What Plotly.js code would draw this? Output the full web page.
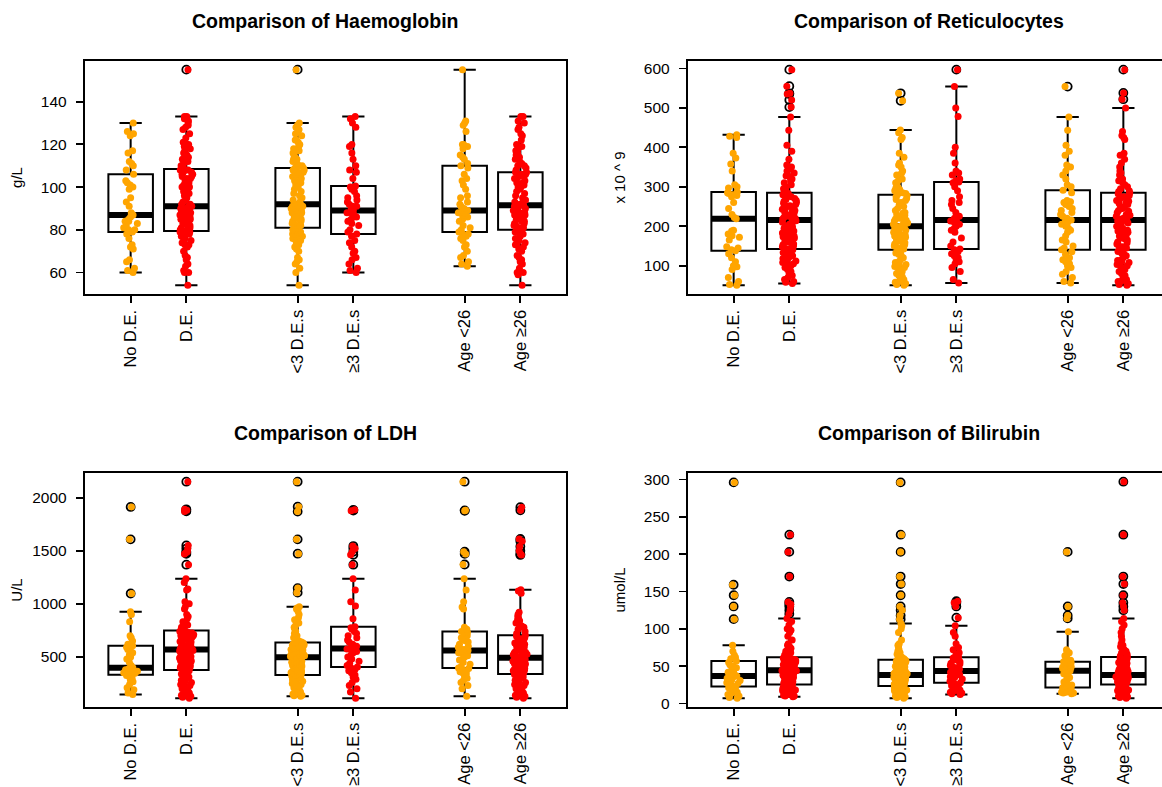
<!DOCTYPE html>
<html><head><meta charset="utf-8">
<script src="https://cdn.plot.ly/plotly-3.0.1.min.js"></script>
<style>
html,body{margin:0;padding:0;overflow:hidden;background:#fff;width:1162px;height:787px}
#chart{width:1172px;height:787px}
</style>
</head><body><div id="chart"></div>
<script>
// ---------- categories ----------
const groupLabels = ['No D.E.', 'D.E.', '&lt;3 D.E.s', '≥3 D.E.s', 'Age &lt;26', 'Age ≥26'];

// ---------- Haemoglobin (g/L) ----------
const hbNoDE = [60,61,62,65,66,71,72,73,76,78, 79, 80,80,81,82,83,84,84,85,86, 87, 88,91,93,95,99,100,101,102,103, 106, 108,110,111,112,116,117,124,125,126,130];
const hbDE = [54,60,60,61,63,64,66,67,68,70, 72,73,73,74,75,75,76,77,77,78, 78,78,78,79,79,79,79, 79.5,
  80,80,81,81,82,82,83,83,84,84,85,85, 86,86,86,87,87,88,88,88,89,89,90,90,90,91, 91,
  92,92,93,94,95,96,97,98,99,100,100,101,102,103,104, 104,105,105,106,106,107,107,108,108,108,108, 108.5,
  109,110,110,111,112,113,113,114,115,116,117,118,119,120,120,121,123,125, 127,128,129,130,131,132,133,133,155];
const hbLt3 = [54,60,62,64,65,66,67,70,71,72, 73,74,75,76,76,77,77,78,78,79,79,80,80,80,81, 81,
  82,82,83,83,84,84,85,85,86,86,87,87,88,88,89,89,90,90,90,91,91,91,92,92, 92,
  93,94,95,96,97,98,99,100,100,101,102,103,103,104,105,105,106,106,107,107,108,108,108,109, 109,
  110,110,111,112,113,113,114,115,116,117,117,118,119,120,121,122,122,124,125,126,127,128,129,130,155];
const hbGe3 = [60,61,62,64,66,67,69,70,72,74,75,77, 78, 79,80,82,83,84,85,86,86,87,88,88, 89,
  90,91,91,92,93,94,95,96,98,99,100, 100.5, 104,107,108,110,113,116,119,120,128,130,132,133];
const hbAgeLt26 = [63,64,65,67,68,70,72,73,75,76,77,78,78, 79, 80,81,82,84,85,86,86,87,87,88,88,89, 89,
  90,91,92,93,95,96,99,101,103,104,106,109, 110, 111,113,114,115,118,119,120,120,126,129,130,131,155];
const hbAgeGe26 = [54,59,60,60,62,64,65,66,67,68,70,71,72,73,74,74,75,76,76,77,78,78,79,79, 80,
  80,81,81,82,82,83,83,84,84,85,85,86,86,87,87,88,88,89,89,90,90,91,91, 91.5,
  92,92,93,93,94,95,96,97,98,99,100,100,101,102,102,103,104,104,105,105,106,106,107, 107,
  108,109,110,110,111,112,113,114,115,116,117,117,118,119,120,122,124,125,127,128,130,131,133,133];

// ---------- Reticulocytes (x 10^9) ----------
const rtNoDE = [50,52,60,70,90,97,100,110,120,130, 138, 140,145,148,165,172,176,180,188,190, 219,
  222,230,245,260,275,278,280,283,285, 287, 297,300,305,340,358,373,385,425,428,432];
const rtDE = [55,58,60,65,70,75,80,85,90,95,100,102,105,108,110,112,115,118,120,122,125,128,130,133,135,138,140, 142,
  145,148,150,153,155,158,160,163,165,168,170,173,175,178,180,183,185,188,190,195,198,200,205,208,210,214, 216,
  218,220,222,225,228,230,233,235,238,240,243,245,248,250,252,255,258,260,263,265,268,270,275,278,280,283, 285,
  290,292,295,300,305,310,315,320,325,328,330,335,340,345,350,355,370,390,405,443,477,502,520,535,537,555,597];
const rtLt3 = [50,52,55,58,60,65,70,72,75,80,85,90,95,98,100,103,105,108,110,115,120,125,128,132,136, 140,
  142,145,148,150,153,155,158,160,163,165,168,170,172,175,178,180,183,185,188,190,193,195,197,199, 200,
  202,205,208,210,213,215,218,220,223,225,228,230,233,235,240,245,250,255,260,265,268,270,275,278, 280,
  283,285,288,290,293,296,300,305,310,315,320,330,335,340,350,355,360,375,385,420,425,437,444,518,537];
const rtGe3 = [56,65,85,95,105,110,115,120,125,130,135,140, 142, 150,160,170,185,190,195,200,205,208,210,213, 216,
  220,225,235,245,255,260,265,275,290,300,310, 312, 315,320,330,335,340,360,385,400,478,500,554,597];
const rtAgeLt26 = [56,60,70,78,85,95,100,105,110,115,120,128,135, 140, 145,150,160,165,175,185,190,195,200,205,210,213, 216,
  220,225,230,235,240,245,250,255,260,262,265,285, 291, 300,305,320,330,340,350,355,380,390,405,443,477,554];
const rtAgeGe26 = [50,52,55,60,62,65,70,75,80,85,90,95,100,103,105,108,110,113,115,120,125,128,132,136, 140,
  143,145,148,150,155,158,160,165,168,170,175,178,180,185,188,190,195,198,200,205,208,210,213, 216,
  218,220,223,225,228,230,235,238,240,245,248,250,255,258,260,263,265,268,270,273,275,278,282, 285,
  288,290,295,300,305,310,315,320,330,335,340,350,360,370,380,385,420,425,430,440,500,522,538,597];

// ---------- LDH (U/L) ----------
const ldNoDE = [145,160,190,210,240,265,280,300,315,325, 333, 340,345,350,360,365,370,380,390,395, 399,
  420,450,480,500,520,540,560,570,590, 604, 620,650,680,700,830,900,925,1097,1607,1912];
const ldDE = [110,120,130,140,150,160,170,180,190,200,210,220,230,240,250,260,270,280,290,300,310,320,330,340,350,360,370, 377,
  385,395,400,410,420,425,430,440,445,450,460,465,470,480,485,490,500,505,510,520,530,535,540,550,555,560, 569,
  575,580,590,595,600,610,615,620,630,640,645,650,660,670,680,685,690,700,705,710,720,725,730,735,740,745, 748,
  760,770,780,790,800,830,860,880,900,950,970,1000,1020,1130,1140,1200,1236,1368,1470,1480,1490,1520,1550,1870,1880,1890,2150];
const ldLt3 = [129,135,140,150,160,170,180,190,200,210,220,230,240,250,260,270,280,285,290,300,305,310,315,320,325, 330,
  335,340,345,350,355,360,370,375,380,390,400,405,410,420,425,430,440,450,455,460,470,480,485,490, 497,
  500,505,510,515,520,525,530,535,540,545,550,555,560,565,570,580,585,590,595,600,610,615,620,630, 635,
  640,650,660,680,700,720,740,760,780,800,820,850,870,900,930,950,960,972,1105,1148,1472,1607,1868,1915,2150];
const ldGe3 = [110,170,200,230,260,290,310,330,350,370,385,395, 405, 420,440,460,480,500,520,540,550,560,570,575, 579,
  590,600,620,640,660,680,700,720,740,760,775, 785, 860,980,1020,1130,1236,1368,1462,1490,1520,1544,1877,1885];
const ldAgeLt26 = [129,200,230,260,280,300,320,340,350,360,370,380,390, 396, 410,430,450,470,480,500,510,520,530,540,550,555, 560,
  570,580,590,600,620,640,650,660,680,700,720,730, 739, 760,780,950,970,1020,1130,1236,1370,1470,1490,1875,1880,2150];
const ldAgeGe26 = [110,120,130,140,150,160,170,180,190,200,210,220,230,240,250,260,270,280,290,300,310,315,325,335, 340,
  345,350,355,360,370,375,380,390,395,400,410,415,420,430,435,440,450,455,460,470,475,480,485, 491,
  500,505,510,520,525,530,540,545,550,560,570,580,590,600,610,620,630,640,650,660,670,680,695, 704,
  720,740,760,780,790,800,820,840,850,860,880,900,920,1100,1120,1132,1460,1470,1500,1540,1590,1610,1880,1910];

// ---------- Bilirubin (umol/L) ----------
const biNoDE = [7,8,10,12,14,15,17,18,20,21, 23, 25,27,28,30,31,32,34,35,36, 37,
  39,40,42,44,46,48,50,52,55, 57, 60,62,65,70,78,113,130,145,159,296];
const biDE = [9,10,10,11,12,12,13,14,14,15,15,16,17,17,18,18,19,20,20,21,21,22,22,23,23,24,25, 25.4,
  26,27,28,29,30,30,31,32,33,34,35,35,36,37,38,38,39,40,40,41,42,42,43,43,44,44, 44.5,
  45,46,46,47,48,48,49,50,50,51,52,52,53,54,54,55,56,56,57,58,58,59,60,60,61,61, 62,
  63,64,65,66,68,70,72,74,76,78,80,85,90,95,98,100,105,110,114,120,125,130,133,136,170,203,226];
const biLt3 = [7,8,9,10,10,11,12,13,13,14,15,15,16,17,17,18,18,19,20,20,21,21,22,22,23, 23.6,
  24,25,25,26,27,27,28,29,29,30,31,31,32,33,33,34,35,35,36,36,37,37,38,38, 38.3,
  39,40,40,41,42,43,43,44,45,46,47,48,48,49,50,51,52,53,54,55,56,57,58,58, 58.8,
  60,62,64,66,68,70,72,75,78,80,85,95,100,104,107,113,118,125,130,145,160,170,203,226,296];
const biGe3 = [12,13,14,15,17,18,20,21,22,24,25,27, 28, 30,32,33,35,36,37,38,39,40,41,42, 43.7,
  45,46,48,50,51,53,54,56,58,59,61, 62, 65,68,72,75,80,90,95,104,115,130,135,137];
const biAgeLt26 = [13,14,14,15,15,16,17,17,18,19,19,20,21, 21.4, 23,25,27,29,31,33,35,37,38,40,41,43, 44,
  45,46,47,48,49,50,51,52,53,54,55,55, 56, 58,60,62,64,66,68,70,72,96,114,118,130,203];
const biAgeGe26 = [7,8,9,10,10,11,12,13,13,14,15,15,16,17,18,18,19,20,20,21,22,23,24,25, 25.4,
  26,27,27,28,29,29,30,31,31,32,32,33,33,34,34,35,35,36,36,37,37,38,38, 38.3,
  39,40,41,42,43,44,45,46,47,48,49,50,51,52,53,54,55,56,57,58,59,60,61, 62.4,
  64,66,68,70,72,74,76,78,80,85,90,95,100,105,110,114,125,130,135,145,160,170,226,297];

// ---------- titles ----------
const panelTitles = ['Comparison of Haemoglobin', 'Comparison of Reticulocytes', 'Comparison of LDH', 'Comparison of Bilirubin'];
const yTitles = ['g/L', 'x 10 ^ 9', 'U/L', 'umol/L'];
const yTickSteps = [20, 100, 500, 50];

// ---------- layout constants (pixels) ----------
const W = 1172, H = 787;
const POS = [1, 2, 4, 5, 7, 8];
const COLORS = ['#FFA500', '#FF0000', '#FFA500', '#FF0000', '#FFA500', '#FF0000'];
const FONT = 'Liberation Sans, Arial, sans-serif';
const colPx = [[85, 566], [688, 1169]];
const rowPx = [[61, 294], [473, 707]];
const standoffs = [15, 15, 6, 15];

const panelData = [
  [hbNoDE, hbDE, hbLt3, hbGe3, hbAgeLt26, hbAgeGe26],
  [rtNoDE, rtDE, rtLt3, rtGe3, rtAgeLt26, rtAgeGe26],
  [ldNoDE, ldDE, ldLt3, ldGe3, ldAgeLt26, ldAgeGe26],
  [biNoDE, biDE, biLt3, biGe3, biAgeLt26, biAgeGe26]
];

function median(a) {
  const s = a.slice().sort((p, q) => p - q);
  const n = s.length;
  return n % 2 ? s[(n - 1) / 2] : (s[n / 2 - 1] + s[n / 2]) / 2;
}

const traces = [], shapes = [], annotations = [];
const layout = {
  width: W, height: H,
  margin: {l: 0, r: 0, t: 0, b: 0},
  paper_bgcolor: '#fff', plot_bgcolor: '#fff',
  showlegend: false, hovermode: false,
  boxmode: 'overlay',
  font: {family: FONT, color: '#000'}
};

panelData.forEach((groups, pi) => {
  const sfx = pi === 0 ? '' : String(pi + 1);
  const xa = 'x' + sfx, ya = 'y' + sfx;
  const col = pi % 2, row = Math.floor(pi / 2);
  const all = [].concat(...groups);
  const lo = Math.min(...all), hi = Math.max(...all);
  const pad = 0.04 * (hi - lo);

  layout['xaxis' + sfx] = {
    domain: [colPx[col][0] / W, colPx[col][1] / W],
    anchor: ya, range: [0.18, 8.82], type: 'linear',
    tickmode: 'array', tickvals: POS, ticktext: groupLabels, tickangle: -90,
    ticks: 'outside', ticklen: 7, tickwidth: 1.8, tickcolor: '#000',
    showline: true, mirror: true, linecolor: '#000', linewidth: 2.2,
    showgrid: false, zeroline: false,
    tickfont: {family: FONT, size: 16.5, color: '#000'}
  };
  layout['yaxis' + sfx] = {
    domain: [1 - rowPx[row][1] / H, 1 - rowPx[row][0] / H],
    anchor: xa, range: [lo - pad, hi + pad],
    tick0: 0, dtick: yTickSteps[pi],
    ticks: 'outside', ticklen: 7, tickwidth: 1.8, tickcolor: '#000',
    ticklabelstandoff: 6,
    showline: true, mirror: true, linecolor: '#000', linewidth: 2.2,
    showgrid: false, zeroline: false,
    tickfont: {family: FONT, size: 15.5, color: '#000'},
    title: {text: yTitles[pi], standoff: standoffs[pi], font: {family: FONT, size: 15, color: '#000'}}
  };

  annotations.push({
    text: panelTitles[pi], showarrow: false,
    xref: xa + ' domain', yref: ya + ' domain', x: 0.5, y: 1, yshift: 40,
    xanchor: 'center', yanchor: 'middle',
    font: {family: FONT, size: 19.5, weight: 'bold', color: '#000'}
  });

  // boxes with outliers (drawn first, below the points)
  groups.forEach((vals, gi) => {
    traces.push({
      type: 'box', y: vals, x0: POS[gi], xaxis: xa, yaxis: ya,
      width: 0.8, quartilemethod: 'inclusive',
      boxpoints: 'outliers', pointpos: 0, jitter: 0,
      fillcolor: 'rgba(0,0,0,0)', line: {color: '#000', width: 2}, whiskerwidth: 0.5,
      marker: {symbol: 'circle-open', color: '#000', size: 8, line: {width: 1.8}},
      hoverinfo: 'skip', showlegend: false
    });
    shapes.push({
      type: 'line', xref: xa, yref: ya, layer: 'below',
      x0: POS[gi] - 0.4, x1: POS[gi] + 0.4, y0: median(vals), y1: median(vals),
      line: {color: '#000', width: 6}
    });
  });
  // jittered raw points on top
  groups.forEach((vals, gi) => {
    traces.push({
      type: 'box', y: vals, x0: POS[gi], xaxis: xa, yaxis: ya,
      width: 0.8, boxpoints: 'all', jitter: 0.34, pointpos: 0,
      fillcolor: 'rgba(0,0,0,0)', line: {color: 'rgba(0,0,0,0)', width: 0}, whiskerwidth: 0,
      marker: {color: COLORS[gi], size: 7, line: {width: 0}},
      hoverinfo: 'skip', showlegend: false
    });
  });
});

layout.shapes = shapes;
layout.annotations = annotations;
Plotly.newPlot('chart', traces, layout, {staticPlot: true, displayModeBar: false});
</script>
</body></html>
